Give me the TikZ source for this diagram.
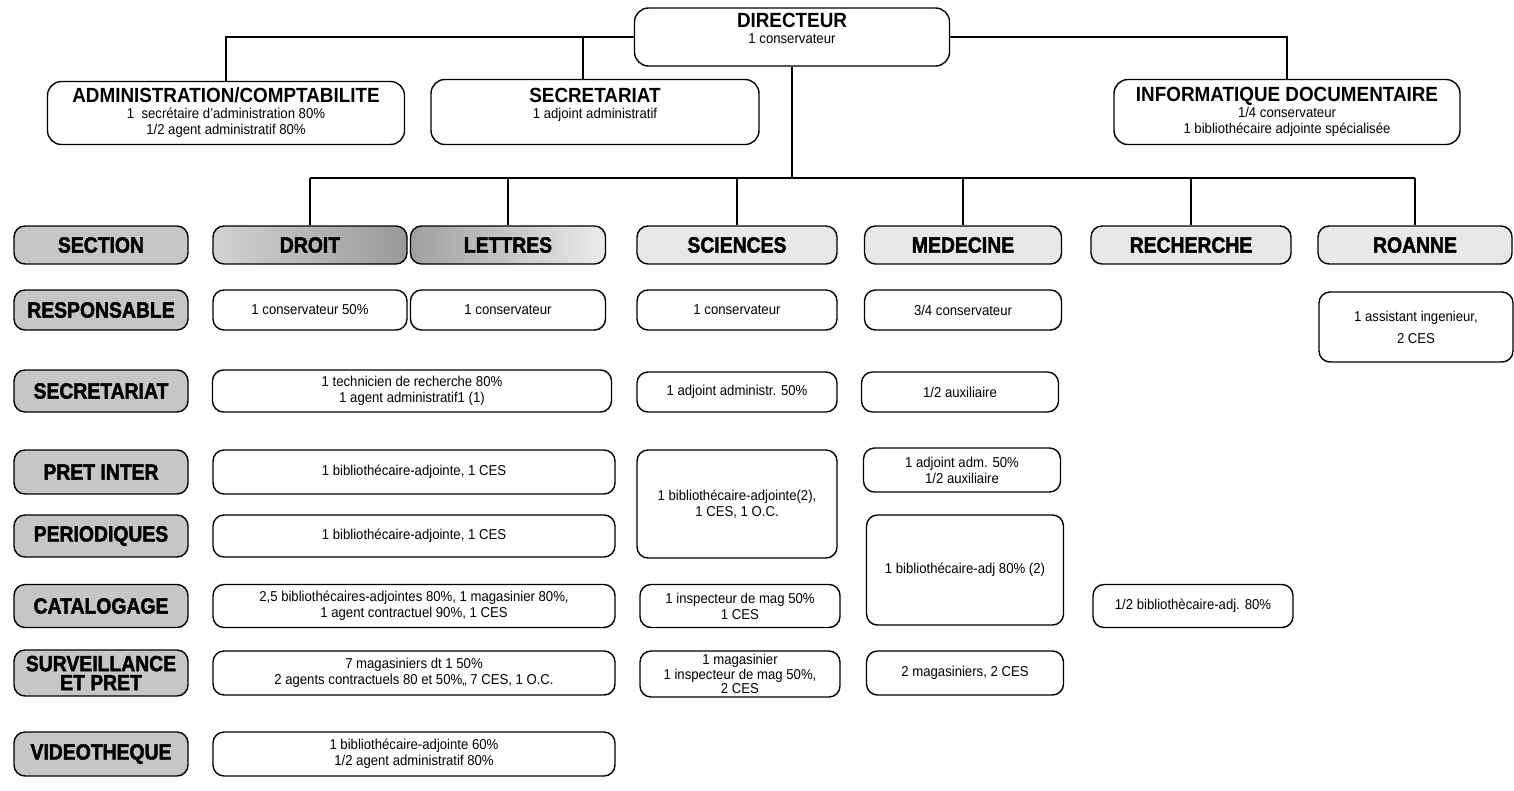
\documentclass[tikz,border=0pt]{standalone}
\usepackage{fontspec}
\setmainfont{Liberation Sans}[FakeStretch=0.92]
\newfontfamily\headfont{Liberation Sans}[FakeStretch=0.88,FakeBold=2]
\usepackage{tikz}

\newcommand\bodyfont{\fontsize{14.3}{16}\selectfont}
\newcommand\titlefont{\fontsize{20.5}{23}\selectfont\bfseries}
\newcommand\labfont{\headfont\bfseries\fontsize{22}{22}\selectfont}

\tikzset{
  box/.style={draw, line width=1.4pt, rounded corners=11pt, align=center, inner sep=1pt, font=\bodyfont},
  topbox/.style={box, rounded corners=14pt},
  lab/.style={box, fill=gray!45, font=\labfont, minimum width=174pt},
  head/.style={box, fill=gray!18, font=\labfont, minimum height=38pt},
  conn/.style={line width=1.1pt}
}

\begin{document}
\begin{tikzpicture}[x=1pt, y=-1pt]
\useasboundingbox (0,0) rectangle (1514,790);

% direction
\node[topbox, minimum width=315pt, minimum height=58pt] (dir) at (792,37)
  {{\titlefont DIRECTEUR}\\1 conservateur\\[2pt]\mbox{}};
\node[topbox, minimum width=357pt, minimum height=63pt] (admin) at (226,113)
  {{\titlefont ADMINISTRATION/COMPTABILITE}\\1\ \ secrétaire d'administration 80\%\\1/2 agent administratif 80\%};
\node[topbox, minimum width=328pt, minimum height=65pt] (secr) at (595,112)
  {{\titlefont SECRETARIAT}\\1 adjoint administratif\\[2pt]\mbox{}};
\node[topbox, minimum width=346pt, minimum height=65pt] (info) at (1287,112)
  {{\titlefont INFORMATIQUE DOCUMENTAIRE}\\1/4 conservateur\\1 bibliothécaire adjointe spécialisée};

% sections
\node[lab, minimum height=38pt] (section) at (101,245) {SECTION};
\node[head, minimum width=194pt, left color=gray!35, right color=gray!80] (droit) at (310,245) {DROIT};
\node[head, minimum width=195pt, left color=gray!75, right color=gray!15] (lettres) at (508,245) {LETTRES};
\node[head, minimum width=200pt] (sciences) at (737,245) {SCIENCES};
\node[head, minimum width=197pt] (medecine) at (963,245) {MEDECINE};
\node[head, minimum width=200pt] (recherche) at (1191,245) {RECHERCHE};
\node[head, minimum width=194pt] (roanne) at (1415,245) {ROANNE};

% responsable
\node[lab, minimum height=40pt] (resp) at (101,310) {RESPONSABLE};
\node[box, minimum width=194pt, minimum height=40pt] (droit-resp) at (310,310) {1 conservateur 50\%};
\node[box, minimum width=195pt, minimum height=40pt] (lettres-resp) at (508,310) {1 conservateur};
\node[box, minimum width=200pt, minimum height=40pt] (sci-resp) at (737,310) {1 conservateur};
\node[box, minimum width=197pt, minimum height=40pt] (med-resp) at (963,310) {3/4 conservateur};
\node[box, minimum width=194pt, minimum height=70pt] (roa-resp) at (1416,327) {1 assistant ingenieur,\\[6pt]2 CES};

% secretariat
\node[lab, minimum height=42pt] (secret) at (101,391) {SECRETARIAT};
\node[box, minimum width=399pt, minimum height=42pt] (dl-secret) at (412,391) {1 technicien de recherche 80\%\\1 agent administratif1 (1)};
\node[box, minimum width=200pt, minimum height=40pt] (sci-secret) at (737,392) {1 adjoint administr. 50\%};
\node[box, minimum width=197pt, minimum height=40pt] (med-secret) at (960,392) {1/2 auxiliaire};

% pret inter
\node[lab, minimum height=44pt] (pret) at (101,472) {PRET INTER};
\node[box, minimum width=402pt, minimum height=44pt] (dl-pret) at (414,472) {1 bibliothécaire-adjointe, 1 CES};
\node[box, minimum width=200pt, minimum height=108pt] (sci-pret) at (737,504) {1 bibliothécaire-adjointe(2),\\1 CES, 1 O.C.};
\node[box, minimum width=197pt, minimum height=44pt] (med-pret) at (962,470) {1 adjoint adm. 50\%\\1/2 auxiliaire};

% periodiques
\node[lab, minimum height=42pt] (perio) at (101,536) {PERIODIQUES};
\node[box, minimum width=402pt, minimum height=42pt] (dl-perio) at (414,536) {1 bibliothécaire-adjointe, 1 CES};
\node[box, minimum width=197pt, minimum height=110pt] (med-perio) at (965,570) {1 bibliothécaire-adj 80\% (2)};

% catalogage
\node[lab, minimum height=43pt] (catal) at (101,606) {CATALOGAGE};
\node[box, minimum width=402pt, minimum height=43pt] (dl-catal) at (414,606) {2,5 bibliothécaires-adjointes 80\%, 1 magasinier 80\%,\\1 agent contractuel 90\%, 1 CES};
\node[box, minimum width=200pt, minimum height=43pt] (sci-catal) at (740,606) {1 inspecteur de mag 50\%\\1 CES};
\node[box, minimum width=200pt, minimum height=43pt] (rech-catal) at (1193,606) {1/2 bibliothècaire-adj. 80\%};

% surveillance
\node[lab, minimum height=46pt, font=\headfont\bfseries\fontsize{22}{19}\selectfont] (surv) at (101,673) {SURVEILLANCE\\ET PRET};
\node[box, minimum width=402pt, minimum height=44pt] (dl-surv) at (414,673) {7 magasiniers dt 1 50\%\\2 agents contractuels 80 et 50\%,, 7 CES, 1 O.C.};
\node[box, minimum width=200pt, minimum height=46pt, font=\fontsize{14.3}{14.5}\selectfont] (sci-surv) at (740,674) {1 magasinier\\1 inspecteur de mag 50\%,\\2 CES};
\node[box, minimum width=197pt, minimum height=44pt] (med-surv) at (965,673) {2 magasiniers, 2 CES};

% videotheque
\node[lab, minimum height=44pt] (video) at (101,754) {VIDEOTHEQUE};
\node[box, minimum width=402pt, minimum height=44pt] (dl-video) at (414,754) {1 bibliothécaire-adjointe 60\%\\1/2 agent administratif 80\%};

% liaisons
\coordinate (bus) at (792,178);
\draw[conn] (dir.west) -| (admin.north);
\draw[conn] (dir.west -| secr.north) ++(-12,0) -- ([xshift=-12pt]secr.north);
\draw[conn] (dir.east) -| (info.north);
\draw[conn] (dir.south) -- (bus);
\draw[conn] (bus -| droit.north) -- (bus -| roanne.north);
\foreach \s in {droit,lettres,sciences,medecine,recherche,roanne}
  \draw[conn] (bus -| \s.north) -- (\s.north);
\end{tikzpicture}
\end{document}
